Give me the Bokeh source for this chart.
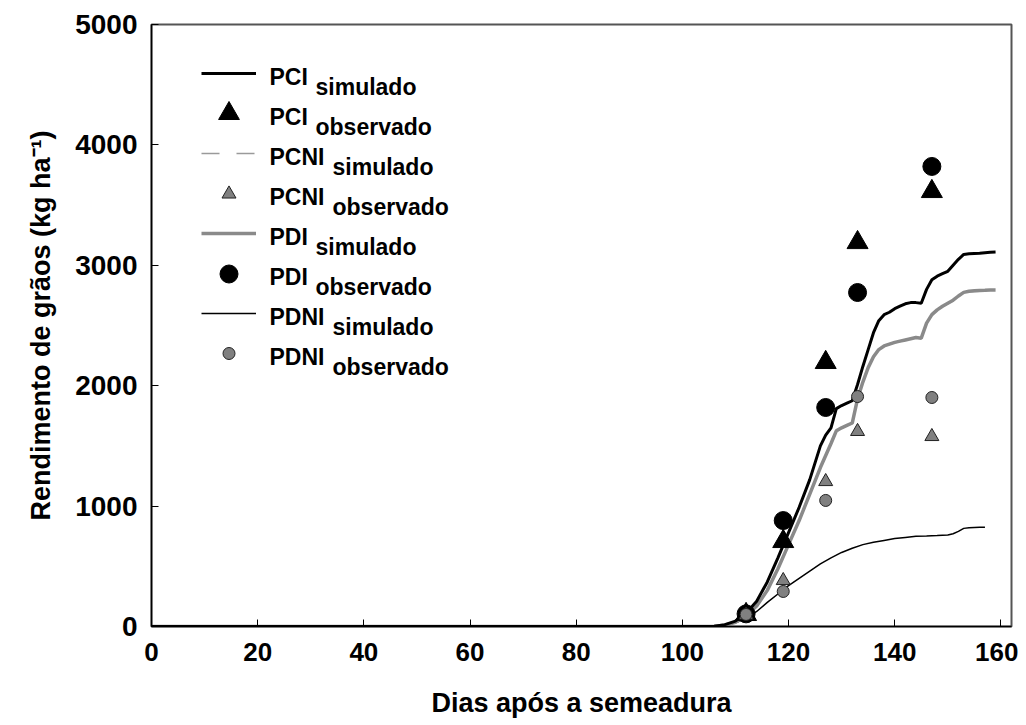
from bokeh.plotting import figure
from bokeh.models import Range1d, Legend, LegendItem, Label, FixedTicker
from bokeh.embed import file_html
from bokeh.resources import INLINE

# ---------------- data ----------------
x_ticks = [0, 20, 40, 60, 80, 100, 120, 140, 160]
y_ticks = [0, 1000, 2000, 3000, 4000, 5000]

sim_days = [0, 100, 104, 106, 108, 110, 112, 114, 116, 118, 120, 122, 124, 126, 127, 128,
            129, 130, 131, 132, 133, 134, 135, 136, 137, 138, 139, 140, 141, 142, 143, 144,
            145, 146, 147, 148, 149, 150, 151, 152, 153, 154, 155, 156, 157, 158, 159]
pci_sim = [0, 0, 0, 3, 15, 45, 110, 210, 370, 570, 780, 990, 1220, 1500, 1590, 1650,
           1810, 1835, 1855, 1875, 2010, 2160, 2300, 2440, 2540, 2590, 2610, 2640, 2660, 2680, 2690, 2690,
           2685, 2800, 2880, 2910, 2930, 2950, 3000, 3050, 3090, 3095, 3098, 3100, 3105, 3108, 3110]
pcni_sim = [0, 0, 0, 2, 9, 33, 88, 168, 297, 476, 676, 876, 1095, 1315, 1415, 1515,
            1615, 1645, 1666, 1686, 1885, 2025, 2145, 2235, 2296, 2326, 2341, 2356, 2366, 2376, 2386, 2396,
            2391, 2515, 2585, 2625, 2655, 2680, 2705, 2740, 2770, 2780, 2783, 2785, 2787, 2790, 2790]
pdi_sim = [0, 0, 0, 2, 10, 35, 90, 170, 300, 480, 680, 880, 1100, 1320, 1420, 1520,
           1625, 1650, 1670, 1690, 1890, 2030, 2150, 2240, 2300, 2330, 2345, 2360, 2370, 2380, 2390, 2400,
           2395, 2520, 2590, 2630, 2660, 2685, 2710, 2745, 2775, 2785, 2788, 2790, 2792, 2795, 2795]
pdni_days = [0, 100, 104, 106, 108, 110, 112, 114, 116, 118, 120, 122, 124, 126, 128, 130,
             132, 134, 136, 138, 140, 142, 144, 146, 148, 150, 151, 152, 153, 154, 155, 156, 157]
pdni_sim = [0, 0, 0, 2, 10, 30, 65, 125, 200, 270, 340, 400, 460, 520, 570, 615,
            650, 680, 700, 715, 730, 740, 750, 752, 755, 760, 770, 790, 815, 820, 822, 824, 825]

obs_days = [112, 119, 127, 133, 147]
pci_obs = [100, 706, 2193, 3189, 3613]
pcni_obs = [95, 382, 1204, 1620, 1578]
pdi_obs = [105, 880, 1819, 2774, 3821]
pdni_obs = [100, 291, 1047, 1910, 1902]

x_title = "Dias após a semeadura"
y_title = "Rendimento de grãos (kg ha⁻¹)"
leg_names = ["PCI", "PCI", "PCNI", "PCNI", "PDI", "PDI", "PDNI", "PDNI"]
leg_subs = ["simulado", "observado", "simulado", "observado",
            "simulado", "observado", "simulado", "observado"]

# ---------------- figure ----------------
FONT = "Liberation Sans"
FRAME_BOTTOM_PAGE = 627
FRAME_LEFT_PAGE = 152

p = figure(width=1018, height=722, x_range=Range1d(0, 162), y_range=Range1d(0, 5000),
           output_backend="svg", toolbar_location=None,
           min_border_left=151, min_border_right=7, min_border_top=24, min_border_bottom=96)
p.xgrid.visible = False
p.ygrid.visible = False
p.outline_line_color = "#555555"
p.outline_line_width = 2
p.background_fill_color = "white"
p.border_fill_color = "white"

p.xaxis.ticker = FixedTicker(ticks=x_ticks)
p.yaxis.ticker = FixedTicker(ticks=y_ticks)
for ax in (p.xaxis, p.yaxis):
    ax.major_tick_in = 7
    ax.major_tick_out = 0
    ax.minor_tick_in = 0
    ax.minor_tick_out = 0
    ax.axis_line_width = 1.5
    ax.axis_line_color = "black"
    ax.major_tick_line_color = "black"
    ax.major_tick_line_width = 1
    ax.major_label_text_font = FONT
    ax.major_label_text_font_style = "bold"
    ax.major_label_text_color = "black"
    ax.axis_label_text_font = FONT
    ax.axis_label_text_font_style = "bold"
    ax.axis_label_text_font_size = "27px"
    ax.axis_label_text_color = "black"

p.xaxis.major_label_text_font_size = "26px"
p.yaxis.major_label_text_font_size = "28px"
p.xaxis.major_label_standoff = 16
p.yaxis.major_label_standoff = 14
p.xaxis.axis_label = x_title
p.yaxis.axis_label = y_title
p.xaxis.axis_label_standoff = 24
p.yaxis.axis_label_standoff = 16

# simulated lines
r_pcni = p.line(sim_days, pcni_sim, line_color="#9a9a9a", line_width=1.5, line_dash="18 17")
r_pdni = p.line(pdni_days, pdni_sim, line_color="black", line_width=1.5)
r_pdi = p.line(sim_days, pdi_sim, line_color="#8a8a8a", line_width=3.5)
r_pci = p.line(sim_days, pci_sim, line_color="black", line_width=3)

# observed points
r_pdi_o = p.scatter(obs_days, pdi_obs, marker="circle", size=18,
                    fill_color="black", line_color="black")
r_pci_o = p.scatter(obs_days, pci_obs, marker="triangle", size=21,
                    fill_color="black", line_color="black")
r_pcni_o = p.scatter(obs_days, pcni_obs, marker="triangle", size=14,
                     fill_color="#808080", line_color="#222222", line_width=1)
r_pdni_o = p.scatter(obs_days, pdni_obs, marker="circle", size=12,
                     fill_color="#808080", line_color="#222222", line_width=1)

# ---------------- legend (one small legend per row, text as labels) ----------------
rows = [r_pci, r_pci_o, r_pcni, r_pcni_o, r_pdi, r_pdi_o, r_pdni, r_pdni_o]
glyph_h = [20, 52, 20, 35, 20, 45, 20, 30]
row_top = 74
row_step = 40
glyph_left = 202 - FRAME_LEFT_PAGE
text_left = 270 - FRAME_LEFT_PAGE
for i, (r, gh, name, sub) in enumerate(zip(rows, glyph_h, leg_names, leg_subs)):
    yc = row_top + i * row_step
    leg = Legend(items=[LegendItem(label=" ", renderers=[r])],
                 location=(glyph_left, FRAME_BOTTOM_PAGE - (yc + gh / 2)),
                 glyph_width=55, glyph_height=gh, label_height=1, label_width=1,
                 label_text_font_size="1px", label_standoff=0,
                 padding=0, spacing=0, margin=0,
                 border_line_color=None, background_fill_alpha=0)
    p.add_layout(leg)
    p.add_layout(Label(x=text_left, y=FRAME_BOTTOM_PAGE - (yc + 3.5),
                       x_units="screen", y_units="screen", text=name,
                       text_font=FONT, text_font_style="bold", text_font_size="23px",
                       text_baseline="alphabetic", text_color="black"))
    sub_off = 46 if len(name) == 3 else 63
    p.add_layout(Label(x=text_left + sub_off, y=FRAME_BOTTOM_PAGE - (yc + 13.5),
                       x_units="screen", y_units="screen", text=sub,
                       text_font=FONT, text_font_style="bold", text_font_size="23px",
                       text_baseline="alphabetic", text_color="black"))

open("out.html", "w").write(file_html(p, INLINE))
